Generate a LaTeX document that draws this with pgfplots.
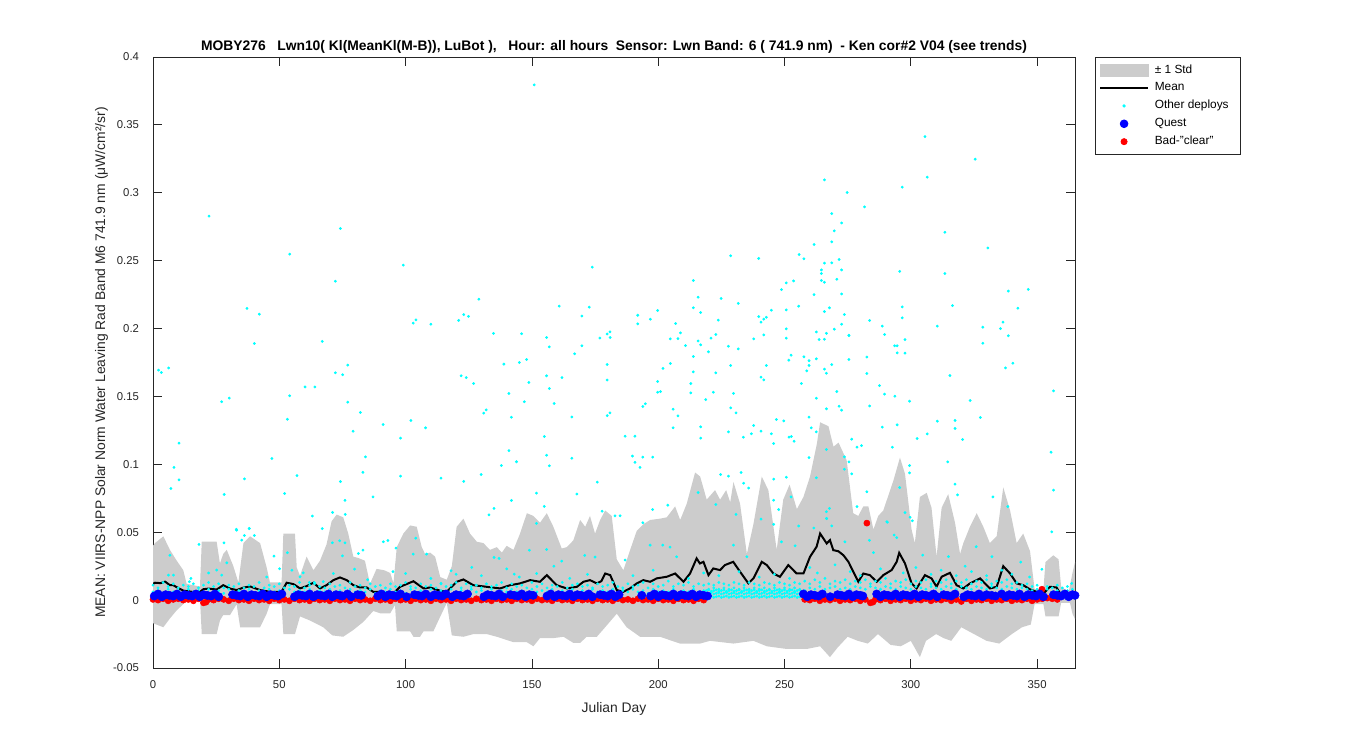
\documentclass[border=0pt]{standalone}
\usepackage{fontspec}
\setmainfont{Liberation Sans}
\usepackage{pgfplots}
\usepackage{pgfplotstable}
\pgfplotsset{compat=1.18}

\definecolor{stdgray}{RGB}{204,204,204}
\definecolor{axgray}{RGB}{38,38,38}
\definecolor{mcyan}{RGB}{0,255,255}
\definecolor{mblue}{RGB}{0,0,255}
\definecolor{mred}{RGB}{255,0,0}

% +/- 1 std band: upper edge left to right, then lower edge right to left
\pgfplotstableread{
d v
0 0.040
0.8 0.042
4.1 0.047
6.7 0.037
9.4 0.029
12.0 0.022
13.3 0.012
18.6 0.010
19.3 0.043
25.2 0.043
26.5 0.027
27.8 0.034
29.2 0.037
31.8 0.025
33.8 0.013
35.8 0.042
38.4 0.047
42.4 0.042
45.0 0.024
46.3 0.013
50.9 0.013
51.6 0.049
56.2 0.049
56.9 0.024
58.2 0.018
60.8 0.032
63.5 0.022
66.1 0.029
68.7 0.041
70.7 0.058
72.7 0.063
75.3 0.061
77.3 0.049
79.3 0.032
81.3 0.031
83.9 0.029
85.9 0.012
88.5 0.023
91.5 0.022
93.9 0.020
95.2 0.0125
96.5 0.039
99.1 0.049
101.8 0.055
104.4 0.054
106.4 0.039
107.7 0.034
109.7 0.035
111.7 0.032
113.7 0.017
116.3 0.015
118.3 0.025
120.2 0.054
122.9 0.060
125.5 0.049
128.2 0.043
130.8 0.042
133.4 0.037
136.1 0.039
138.1 0.035
140.0 0.040
142.7 0.037
145.3 0.049
148.0 0.064
150.6 0.062
153.2 0.057
155.9 0.064
158.5 0.054
161.8 0.038
163.8 0.039
166.4 0.044
169.1 0.059
171.1 0.054
173.0 0.062
175.0 0.049
177.0 0.059
179.0 0.066
181.6 0.062
183.6 0.030
186.2 0.022
188.9 0.037
191.5 0.051
194.2 0.056
196.8 0.059
200.8 0.060
203.4 0.061
206.7 0.069
208.7 0.059
211.3 0.071
214.6 0.094
216.6 0.091
219.2 0.074
222.5 0.081
224.5 0.074
226.9 0.081
228.5 0.072
229.8 0.087
232.4 0.071
235.1 0.034
237.7 0.056
241.0 0.091
243.6 0.081
246.9 0.037
249.5 0.074
252.0 0.085
254.9 0.067
257.5 0.076
260.1 0.091
262.8 0.115
264.1 0.131
267.4 0.128
269.4 0.113
271.4 0.116
274.6 0.103
277.2 0.064
279.2 0.062
281.2 0.069
283.2 0.069
285.2 0.052
287.1 0.062
289.1 0.066
293.1 0.088
295.7 0.105
297.7 0.093
300.3 0.052
301.6 0.042
303.6 0.076
306.3 0.079
308.2 0.068
310.2 0.032
312.2 0.068
314.8 0.078
317.5 0.057
319.5 0.034
320.8 0.042
323.4 0.054
326.1 0.064
328.7 0.054
331.3 0.042
334.0 0.047
336.6 0.083
339.3 0.066
341.9 0.042
344.5 0.049
347.2 0.036
349.0 0.008
352.5 0.008
353.3 0.028
356.4 0.033
358.5 0.030
359.5 0.010
362.5 0.006
364.0 0.020
365 0.028
365 -0.014
364.0 -0.010
363.0 -0.002
359.5 -0.002
358.5 -0.012
353.3 -0.012
352.5 -0.003
349.0 -0.003
347.5 -0.018
344.0 -0.020
340.0 -0.025
335.0 -0.032
330.0 -0.030
325.0 -0.025
320.0 -0.020
316.0 -0.030
313.0 -0.028
310.0 -0.025
306.0 -0.030
303.6 -0.042
300.0 -0.030
296.0 -0.034
292.0 -0.033
287.0 -0.025
283.0 -0.032
279.0 -0.030
275.0 -0.027
271.0 -0.035
268.0 -0.042
264.1 -0.034
258.8 -0.036
250.9 -0.036
243.0 -0.034
237.7 -0.030
229.8 -0.032
220.5 -0.030
216.6 -0.032
208.6 -0.032
200.7 -0.027
192.8 -0.027
187.5 -0.020
183.6 -0.010
179.0 -0.020
175.7 -0.027
171.7 -0.027
169.1 -0.0315
166.4 -0.0315
162.5 -0.027
158.5 -0.028
153.2 -0.028
150.6 -0.034
148.0 -0.031
142.7 -0.031
136.1 -0.027
132.1 -0.025
126.9 -0.025
122.9 -0.027
118.3 -0.026
116.3 -0.002
113.0 -0.015
111.0 -0.023
107.1 -0.023
105.7 -0.027
103.1 -0.027
101.8 -0.023
96.5 -0.023
95.8 -0.0037
93.9 -0.0097
89.9 -0.0097
87.2 -0.008
83.3 -0.016
79.3 -0.022
75.3 -0.027
71.0 -0.026
67.4 -0.020
62.1 -0.015
58.2 -0.012
56.2 -0.025
51.6 -0.025
50.9 -0.003
46.3 -0.003
45.0 -0.010
42.4 -0.020
34.5 -0.020
33.1 -0.003
30.5 -0.011
27.8 -0.011
26.5 -0.015
25.2 -0.025
19.3 -0.025
18.6 0.001
13.3 0.001
12.0 -0.003
9.4 -0.0075
6.7 -0.0135
4.1 -0.020
0 -0.017
}\bandpoly

% running mean
\pgfplotstableread{
d v
0 0.012
0.8 0.0128
3 0.0125
4.8 0.0136
6.7 0.011
8 0.011
9.4 0.0095
12.0 0.007
15.9 0.006
18.6 0.006
19.9 0.008
22 0.0085
25.2 0.0078
27.8 0.011
30.5 0.0085
33.1 0.0074
35.8 0.0092
38.4 0.0101
42.4 0.0074
46.3 0.0061
50.9 0.0061
52.9 0.0128
55.6 0.0118
58.2 0.0086
60.8 0.0103
63.5 0.0128
66.1 0.0086
68.7 0.011
71.4 0.0147
74.0 0.0167
76.7 0.0147
79.3 0.011
81.9 0.0093
84.6 0.0093
87.2 0.0061
89.9 0.0061
95.2 0.0049
97.8 0.0098
103.1 0.0139
107.1 0.0086
109.7 0.0093
113.7 0.0069
116.3 0.0061
120.2 0.0135
122.9 0.0152
126.8 0.011
132.1 0.0098
137.4 0.0086
141.4 0.011
145.3 0.0123
149.3 0.0147
153.2 0.0135
155.9 0.0184
159.8 0.011
163.8 0.0086
167.8 0.0098
170.4 0.0135
173.0 0.0147
175.7 0.0123
177.5 0.014
179.0 0.0196
181.0 0.0184
183.6 0.0074
186.2 0.0061
188.8 0.0086
191.5 0.0123
194.1 0.0147
196.8 0.0135
199.4 0.016
203.4 0.0172
206.7 0.0196
210.0 0.0135
212.6 0.0196
215.2 0.0307
216.5 0.027
217.9 0.0282
219.9 0.0184
221.8 0.0233
224.5 0.0221
226.4 0.0258
229.7 0.0282
232.4 0.0209
235.7 0.0123
237.7 0.016
241.0 0.0282
243.0 0.0258
245.6 0.0196
248.2 0.0172
251.5 0.0258
254.8 0.0196
257.5 0.0196
260.1 0.0319
262.7 0.0393
264.1 0.049
266.7 0.0417
268.0 0.0442
269.3 0.0368
271.3 0.036
273.3 0.0331
275.3 0.0282
279.2 0.0135
281.2 0.0196
283.8 0.0184
286.5 0.0135
289.1 0.0184
292.4 0.0221
294.4 0.0282
295.4 0.0348
297.7 0.027
300.3 0.0123
302.3 0.0086
305.6 0.0184
308.2 0.016
310.2 0.0098
312.2 0.0172
315.5 0.0201
318.1 0.011
320.8 0.0086
323.4 0.0123
327.4 0.016
331.3 0.0086
334.0 0.0098
336.6 0.025
339.3 0.0196
341.9 0.0123
344.5 0.011
347.2 0.0079
349.8 0.0061
352.5 0.0049
355.1 0.0098
357.7 0.0093
359.1 0.0049
}\meantab

% other deploys, low-level cloud of points
\pgfplotstableread{
d b c
0 0.006 0.011
2 0.007 0.009
4 0.005 0.013
6 0.008 0.010
8 0.006 0.012
10 0.007 0.009
12 0.005 0.011
14 0.008 0.010
16 0.006 0.012
18 0.007 0.009
20 0.006 0.011
22 0.008 0.013
24 0.006 0.010
26 0.007 0.012
28 0.005 0.009
30 0.008 0.011
32 0.006 0.010
34 0.007 0.012
36 0.006 0.009
38 0.008 0.011
40 0.005 0.010
42 0.007 0.013
44 0.006 0.009
46 0.008 0.011
48 0.006 0.010
50 0.007 0.012
52 0.005 0.009
54 0.008 0.011
56 0.006 0.010
58 0.007 0.013
60 0.006 0.009
62 0.008 0.011
64 0.005 0.012
66 0.007 0.010
68 0.006 0.009
70 0.008 0.012
72 0.006 0.010
74 0.007 0.011
76 0.005 0.009
78 0.008 0.013
80 0.006 0.010
82 0.007 0.011
84 0.006 0.009
86 0.008 0.012
88 0.005 0.010
90 0.007 0.011
92 0.006 0.009
94 0.008 0.012
96 0.006 0.010
98 0.007 0.011
100 0.005 0.013
102 0.008 0.010
104 0.006 0.009
106 0.007 0.012
108 0.006 0.010
110 0.008 0.011
112 0.005 0.009
114 0.007 0.012
116 0.006 0.010
118 0.008 0.011
120 0.006 0.013
122 0.007 0.009
124 0.005 0.012
126 0.008 0.010
128 0.006 0.011
130 0.007 0.009
132 0.006 0.012
134 0.008 0.010
136 0.005 0.011
138 0.007 0.013
140 0.006 0.009
142 0.008 0.012
144 0.006 0.010
146 0.007 0.011
148 0.005 0.009
150 0.008 0.013
152 0.006 0.010
154 0.007 0.012
156 0.006 0.009
158 0.008 0.011
160 0.005 0.010
162 0.007 0.013
164 0.006 0.009
166 0.008 0.011
168 0.006 0.012
170 0.007 0.010
172 0.005 0.011
174 0.008 0.009
176 0.006 0.012
178 0.007 0.010
180 0.006 0.011
182 0.008 0.013
184 0.005 0.010
186 0.007 0.009
188 0.006 0.012
190 0.008 0.010
192 0.006 0.011
194 0.007 0.013
196 0.005 0.009
198 0.008 0.012
200 0.006 0.010
202 0.007 0.011
204 0.006 0.014
206 0.008 0.010
208 0.005 0.012
210 0.007 0.011
212 0.006 0.013
214 0.008 0.010
216 0.006 0.012
218 0.007 0.011
220 0.008 0.012
222 0.009 0.011
224 0.008 0.013
226 0.009 0.012
228 0.008 0.011
230 0.009 0.013
232 0.008 0.012
234 0.009 0.011
236 0.008 0.013
238 0.009 0.012
240 0.008 0.011
242 0.009 0.013
244 0.008 0.012
246 0.009 0.011
248 0.008 0.013
250 0.009 0.012
252 0.008 0.011
254 0.009 0.013
256 0.008 0.012
258 0.007 0.014
260 0.009 0.012
262 0.008 0.015
264 0.010 0.013
266 0.008 0.016
268 0.009 0.012
270 0.010 0.014
272 0.008 0.013
274 0.009 0.015
276 0.008 0.012
278 0.010 0.014
280 0.009 0.013
282 0.008 0.015
284 0.010 0.012
286 0.009 0.014
288 0.008 0.013
290 0.010 0.016
292 0.009 0.012
294 0.008 0.014
296 0.010 0.013
298 0.009 0.015
300 0.008 0.012
302 0.010 0.014
304 0.009 0.013
306 0.008 0.015
308 0.010 0.012
310 0.009 0.014
312 0.008 0.013
314 0.010 0.015
316 0.009 0.012
318 0.008 0.014
320 0.010 0.013
322 0.009 0.015
324 0.008 0.012
326 0.010 0.014
328 0.009 0.013
330 0.008 0.015
332 0.010 0.012
334 0.009 0.014
336 0.008 0.013
338 0.010 0.015
340 0.009 0.012
342 0.008 0.013
344 0.009 0.011
346 0.008 0.012
348 0.007 0.010
350 0.008 0.011
352 0.007 0.009
354 0.008 0.010
356 0.006 0.009
358 0.007 0.011
360 0.006 0.009
362 0.007 0.010
364 0.006 0.008
}\cyanlow

% other deploys, dense strip where Quest is absent
\pgfplotstableread{
d a b c
219 0.002 0.0045 0.0070
220 0.0025 0.0050 0.0075
221 0.003 0.0055 0.0065
222 0.002 0.0045 0.0070
223 0.0025 0.0050 0.0075
224 0.003 0.0055 0.0065
225 0.002 0.0045 0.0070
226 0.0025 0.0050 0.0075
227 0.003 0.0055 0.0065
228 0.002 0.0045 0.0070
229 0.0025 0.0050 0.0075
230 0.003 0.0055 0.0065
231 0.002 0.0045 0.0070
232 0.0025 0.0050 0.0075
233 0.003 0.0055 0.0065
234 0.002 0.0045 0.0070
235 0.0025 0.0050 0.0075
236 0.003 0.0055 0.0065
237 0.002 0.0045 0.0070
238 0.0025 0.0050 0.0075
239 0.003 0.0055 0.0065
240 0.002 0.0045 0.0070
241 0.0025 0.0050 0.0075
242 0.003 0.0055 0.0065
243 0.002 0.0045 0.0070
244 0.0025 0.0050 0.0075
245 0.003 0.0055 0.0065
246 0.002 0.0045 0.0070
247 0.0025 0.0050 0.0075
248 0.003 0.0055 0.0065
249 0.002 0.0045 0.0070
250 0.0025 0.0050 0.0075
251 0.003 0.0055 0.0065
252 0.002 0.0045 0.0070
253 0.0025 0.0050 0.0075
254 0.003 0.0055 0.0065
255 0.002 0.0045 0.0070
256 0.0025 0.0050 0.0075
257 0.003 0.0055 0.0065
258 0.002 0.0045 0.0070
}\cyanstrip

\begin{document}
\begin{tikzpicture}
\useasboundingbox (0,0) rectangle (1012.5pt,562.5pt);
\begin{axis}[
    at={(114.75pt,61.5pt)}, anchor=south west,
    width=691.5pt, height=458.25pt, scale only axis,
    xmin=0, xmax=365, ymin=-0.05, ymax=0.4,
    xtick={0,50,...,350},
    xticklabels={0,50,100,150,200,250,300,350},
    ytick={-0.05,0,0.05,0.1,0.15,0.2,0.25,0.3,0.35,0.4},
    yticklabels={-0.05,0,0.05,0.1,0.15,0.2,0.25,0.3,0.35,0.4},
    tick align=inside, major tick length=6.5pt,
    axis line style={axgray, line width=0.6pt},
    tick style={axgray, line width=0.6pt},
    ticklabel style={font=\fontsize{8.5}{10}\selectfont, text=axgray},
    yticklabel shift=7pt, xticklabel shift=6pt,
    title={MOBY276\ \ \ Lwn10( Kl(MeanKl(M-B)), LuBot ),\ \ \ Hour: all hours\ \ Sensor: Lwn Band: 6 ( 741.9 nm)\ \ - Ken cor\#2 V04 (see trends)},
    title style={font=\bfseries\fontsize{10.4}{12}\selectfont, at={(axis description cs:0.5,1)}, anchor=south, inner sep=0pt, yshift=-3.2pt},
    xlabel={Julian Day},
    xlabel style={font=\fontsize{10.4}{12}\selectfont, text=axgray, at={(axis description cs:0.5,0)}, anchor=base, yshift=-33.5pt},
    ylabel={MEAN: VIIRS-NPP Solar Norm Water Leaving Rad Band M6 741.9 nm (μW/cm²/sr)},
    ylabel style={font=\fontsize{10.4}{12}\selectfont, text=axgray, at={(axis description cs:0,0.5)}, anchor=base, xshift=0pt, yshift=36pt},
    legend style={at={(axis description cs:1.0217,1)}, anchor=north west,
        draw=axgray, line width=0.6pt, font=\fontsize{8.9}{10}\selectfont,
        inner xsep=3pt, inner ysep=4.5pt, row sep=3.2pt,
        nodes={inner sep=1pt, text height=6.3pt, text depth=1.9pt}},
    legend cell align=left,
]
% +/- 1 std band
\addplot[fill=stdgray, draw=none, forget plot] table[x=d,y=v]{\bandpoly};

% other deploys
\addplot[only marks, mark=*, mark size=0.85pt, mcyan, forget plot] table[x=d,y=b]{\cyanlow};
\addplot[only marks, mark=*, mark size=0.85pt, mcyan, forget plot] table[x=d,y=c]{\cyanlow};
\addplot[only marks, mark=*, mark size=0.85pt, mcyan, forget plot] table[x=d,y=a]{\cyanstrip};
\addplot[only marks, mark=*, mark size=0.85pt, mcyan, forget plot] table[x=d,y=b]{\cyanstrip};
\addplot[only marks, mark=*, mark size=0.85pt, mcyan, forget plot] table[x=d,y=c]{\cyanstrip};
\addplot[only marks, mark=*, mark size=0.85pt, mcyan, forget plot] coordinates {
(18.2,0.041)(14.4,0.0136)(6.1,0.0184)(8.1,0.0184)(6.7,0.033)(28.1,0.0422)(29.2,0.0275)
(25.2,0.0221)(27.2,0.0184)(33.1,0.0515)(35.1,0.0442)(36.2,0.0476)(38.1,0.0528)(40.1,0.0476)
(47.9,0.0324)(50.1,0.0231)(53.2,0.0349)(58.2,0.0172)(59.5,0.0201)(61.9,0.013)(63.9,0.013)
(71.0,0.0422)(75.0,0.0326)(76.0,0.0422)(73.9,0.0437)(71.4,0.0196)(81.3,0.0343)(83.1,0.0368)
(79.8,0.0228)(67.4,0.0136)(91.2,0.0429)(93.0,0.0439)(96.2,0.0383)(104.0,0.0456)(103.0,0.0339)
(108.3,0.0339)(100.0,0.0196)(114.0,0.0123)(118.0,0.0216)(126.2,0.0241)(135.0,0.0314)
(137.0,0.0307)(143.0,0.0191)(149.0,0.0368)(155.8,0.0373)(158.7,0.025)(161.8,0.0287)
(170.9,0.0329)(175.0,0.0317)(151.9,0.0196)(186.9,0.0295)(196.8,0.0405)(201.8,0.0405)
(204.7,0.039)(207.3,0.0319)(229.8,0.0405)(235.1,0.032)(248.8,0.0429)(254.2,0.040)
(266.7,0.060)(273.9,0.0429)(283.6,0.044)(285.2,0.035)(290.5,0.0577)(293.4,0.0479)
(294.4,0.046)(299.7,0.061)(304.7,0.0331)(314.9,0.032)(321.5,0.025)(325.9,0.0393)
(332.1,0.032)(343.5,0.028)(355.8,0.0503)(351.9,0.0227)(363.7,0.0123)
(190,0.018)(198,0.022)(212,0.016)(218,0.02)(224,0.018)(232,0.021)(240,0.017)(246,0.019)
(252,0.016)(260,0.024)(263,0.02)(270,0.026)(276,0.021)(280,0.018)(288,0.023)(297,0.02)
(302,0.024)(308,0.019)(312,0.022)(318,0.018)(324,0.021)(330,0.018)(336,0.022)(340,0.019)
(347,0.017)(15,0.016)(45,0.017)(85,0.015)(110,0.016)(130,0.018)(145,0.017)(165,0.016)
(172,0.019)(55,0.022)(22,0.02)(95,0.021)(120,0.019)(140,0.023)
(22.2,0.2828)(74.2,0.2737)(54.1,0.2548)(72.2,0.2349)(37.2,0.2148)(42.1,0.2106)(40.1,0.189)
(67.0,0.1905)(2.2,0.1694)(3.3,0.1676)(6.2,0.171)(77.1,0.1731)(72.2,0.1674)(75.1,0.166)
(60.2,0.157)(64.1,0.157)(54.1,0.1505)(27.2,0.1461)(30.2,0.1488)(77.1,0.1458)(82.1,0.1382)
(53.2,0.1332)(79.2,0.1244)(91.1,0.1293)(10.3,0.1156)(47.1,0.1043)(84.1,0.1055)(8.3,0.0977)
(10.3,0.0886)(36.2,0.0893)(57.0,0.0917)(83.1,0.0941)(74.2,0.0873)(7.1,0.0822)(28.2,0.0778)
(52.1,0.0785)(76.0,0.0735)(87.1,0.076)(63.1,0.0619)(71.1,0.0646)(76.1,0.0631)(33.0,0.0521)
(38.1,0.0526)(67.0,0.0527)
(150.9,0.3795)(99.1,0.2467)(173.9,0.2452)(129.0,0.2216)(160.8,0.2165)(172.7,0.2157)
(104.1,0.2064)(103.0,0.204)(110.0,0.2032)(121.0,0.206)(123.0,0.2103)(124.9,0.209)
(169.8,0.2092)(134.8,0.1964)(145.9,0.1962)(155.8,0.1934)(156.9,0.1865)(176.9,0.193)
(179.8,0.196)(180.9,0.1976)(181.0,0.1934)(166.9,0.1814)(169.8,0.1873)(138.9,0.1738)
(145.0,0.175)(147.9,0.1772)(179.8,0.1735)(122.0,0.1652)(124.0,0.1639)(126.9,0.1595)
(148.8,0.1603)(155.8,0.1652)(161.9,0.1639)(156.9,0.1558)(179.8,0.1621)(140.9,0.1522)
(147.0,0.1461)(158.8,0.1448)(130.9,0.1377)(131.9,0.1401)(141.9,0.1347)(165.8,0.1349)
(179.8,0.1359)(180.9,0.1379)(102.1,0.1323)(107.9,0.1269)(98.0,0.1193)(154.9,0.1205)
(140.9,0.1101)(155.8,0.1067)(143.9,0.1019)(137.9,0.0991)(156.9,0.0989)(165.8,0.1045)
(98.0,0.0913)(114.0,0.0898)(123.0,0.0874)(129.9,0.0925)(175.9,0.0869)(151.8,0.0788)
(167.8,0.0781)(141.9,0.0734)(135.0,0.0675)(133.0,0.0628)(154.9,0.0690)(177.8,0.0655)
(182.9,0.0621)(151.8,0.0565)
(265.8,0.3095)(274.8,0.3002)(268.7,0.2847)(272.6,0.2778)(269.7,0.272)(268.7,0.2639)
(261.7,0.2619)(255.8,0.2545)(257.7,0.2514)(271.6,0.2509)(228.7,0.2536)(239.8,0.2516)
(265.8,0.2482)(268.7,0.2484)(264.6,0.2432)(264.6,0.2405)(272.6,0.2432)(264.6,0.2354)
(265.8,0.2341)(270.7,0.2363)(253.6,0.2351)(250.7,0.2336)(248.8,0.2287)(213.9,0.2354)
(272.6,0.2255)(261.7,0.225)(215.8,0.2231)(224.9,0.2222)(231.7,0.2185)(255.6,0.2165)
(267.8,0.2153)(213.9,0.2153)(244.8,0.2135)(250.7,0.2137)(265.8,0.2125)(273.7,0.2103)
(216.8,0.2118)(191.9,0.2098)(199.8,0.2133)(191.9,0.2035)(196.9,0.2069)(223.8,0.2062)
(206.9,0.2037)(240.7,0.2047)(241.8,0.2069)(239.8,0.2088)(242.8,0.2083)(272.6,0.2032)
(250.7,0.1998)(269.7,0.1995)(208.8,0.1968)(262.6,0.1975)(266.6,0.1965)(275.5,0.1948)
(204.8,0.1924)(207.8,0.1926)(215.8,0.1909)(220.9,0.1929)(222.8,0.1956)(237.8,0.1924)
(241.8,0.1953)(250.7,0.1929)(263.7,0.1919)(265.8,0.1921)(210.8,0.1875)(216.8,0.188)
(227.8,0.187)(231.7,0.185)(219.9,0.1829)(213.9,0.1794)(228.7,0.1728)(242.8,0.1728)
(251.7,0.1767)(252.6,0.1804)(257.7,0.1792)(259.7,0.1763)(262.6,0.1777)(259.7,0.1728)
(268.7,0.1735)(201.9,0.1706)(204.8,0.1743)(265.8,0.1701)(258.8,0.1689)(213.9,0.1681)
(222.8,0.1674)(266.6,0.1671)(240.7,0.1642)(241.8,0.1622)(199.8,0.161)(212.9,0.1595)
(256.7,0.1595)(199.8,0.1531)(200.9,0.1536)(212.9,0.1526)(221.8,0.1531)(229.8,0.1522)
(270.7,0.1536)(218.8,0.1477)(262.6,0.1487)(193.9,0.1426)(194.9,0.1446)(228.7,0.1416)
(205.9,0.1406)(230.8,0.1379)(271.6,0.1428)(272.6,0.1399)(266.6,0.1409)(207.8,0.1357)
(259.7,0.1347)(246.8,0.133)(249.7,0.132)(205.9,0.1269)(216.8,0.1276)(237.8,0.1286)
(260.6,0.1269)(227.8,0.1239)(240.7,0.1244)(186.9,0.1207)(190.8,0.1207)(216.8,0.1193)
(233.7,0.12)(236.9,0.1225)(244.8,0.1225)(251.8,0.12)(252.7,0.1205)(253.8,0.117)
(245.7,0.1153)(262.6,0.1239)(189.8,0.1061)(193.9,0.1053)(197.8,0.1053)(190.8,0.1015)
(192.8,0.0977)(259.7,0.1050)(273.7,0.1055)(266.6,0.1109)(224.7,0.0925)(227.8,0.0913)
(232.8,0.0940)(233.8,0.0861)(235.8,0.0825)(245.7,0.0891)(250.7,0.0905)(262.6,0.0901)
(273.7,0.0964)(215.8,0.0792)(252.6,0.0760)(245.7,0.0736)(222.8,0.0704)(203.8,0.0699)
(197.8,0.0667)(184.9,0.0621)(230.8,0.0631)(267.8,0.0675)(266.6,0.0651)(247.7,0.0667)
(193.9,0.0570)(240.7,0.0597)(266.6,0.0602)(255.6,0.0546)(261.6,0.0531)(268.7,0.0546)
(245.7,0.0558)
(305.6,0.3414)(325.5,0.3247)(306.5,0.3115)(296.6,0.3041)(281.7,0.2896)(313.5,0.2709)
(330.5,0.2594)(295.6,0.2421)(313.5,0.2405)(338.6,0.2276)(346.5,0.2288)(296.6,0.2159)
(316.5,0.2169)(342.4,0.2150)(296.6,0.2079)(283.7,0.206)(288.7,0.2018)(310.5,0.2018)
(328.5,0.201)(335.5,0.2)(336.5,0.2047)(338.6,0.1947)(275.5,0.1951)(289.6,0.1956)
(297.7,0.1919)(293.6,0.1873)(294.6,0.1873)(294.6,0.1821)(297.7,0.1819)(328.5,0.1892)
(282.6,0.179)(275.5,0.1772)(340.4,0.1745)(337.5,0.171)(282.6,0.1669)(315.5,0.1654)
(287.6,0.158)(356.5,0.1541)(289.6,0.1517)(293.7,0.1502)(299.5,0.1465)(323.5,0.147)
(283.7,0.143)(327.5,0.1345)(310.5,0.1318)(317.5,0.1323)(317.5,0.1264)(288.7,0.1274)
(294.6,0.1291)(276.6,0.1185)(302.5,0.119)(306.5,0.1224)(320.5,0.1183)(278.7,0.1126)
(280.5,0.1138)(292.7,0.1126)(355.5,0.1089)(275.5,0.1018)(314.6,0.1018)(299.5,0.0991)
(276.6,0.093)(299.5,0.0937)(295.6,0.0829)(317.5,0.0854)(356.5,0.081)(282.6,0.0798)
(318.5,0.0775)(332.5,0.076)(278.7,0.0689)(338.4,0.0689)(297.7,0.0645)(300.6,0.0584)
(290.7,0.0574)
};

% running mean
\addplot[black, line width=1.5pt, forget plot] table[x=d,y=v]{\meantab};

% bad "clear"
\addplot[only marks, mark=*, mark size=2.3pt, mred, forget plot] coordinates {
(0,0.0005)(2,0.0)(4,0.001)(6,-0.0005)(8,0.0005)(10,0.001)(12,0)(14,0.0005)(16,-0.0005)
(18,0.001)(20,-0.002)(21,-0.0015)(22,0.0005)(24,0)(26,0.001)(28,0.0005)(30,-0.0005)
(32,0.001)(34,0)(36,0.0005)(38,-0.0005)(40,0.001)(42,0)(44,0.0005)(46,-0.0005)(48,0.001)
(50,0)(52,0.0005)(54,-0.0005)(56,0.001)(58,0)(60,0.0005)(62,-0.0005)(64,0.001)(66,0)
(68,0.0005)(70,-0.0005)(72,0.001)(74,0)(76,0.0005)(78,-0.0005)(80,0.001)(82,0)(84,0.0005)
(86,-0.0005)(88,0.001)(90,0)(92,0.0005)(94,-0.0005)(96,0.001)(98,0)(100,0.0005)
(102,-0.0005)(104,0.001)(106,0)(108,0.0005)(110,-0.0005)(112,0.001)(114,0)(116,0.0005)
(118,-0.0005)(120,0.001)(122,0)(124,0.0005)(126,-0.0005)(128,0.001)(130,0)(132,0.0005)
(134,-0.0005)(136,0.001)(138,0)(140,0.0005)(142,-0.0005)(144,0.001)(146,0)(148,0.0005)
(150,-0.0005)(152,0.001)(154,0)(156,0.0005)(158,-0.0005)(160,0.001)(162,0)(164,0.0005)
(166,-0.0005)(168,0.001)(170,0)(172,0.0005)(174,-0.0005)(176,0.001)(178,0)(180,0.0005)
(182,-0.0005)(184,0.001)(186,0)(188,0.0005)(190,-0.0005)(192,0.001)(194,0)(196,0.0005)
(198,-0.0005)(200,0.001)(202,0)(204,0.0005)(206,-0.0005)(208,0.001)(210,0)(212,0.0005)
(214,-0.0005)(216,0.001)(218,0)
(258,0.0005)(260,0)(262,0.001)(264,-0.0005)(266,0.0005)(268,0)(270,0.001)(272,-0.0005)
(274,0.0005)(276,0)(278,0.001)(280,-0.0005)(282,0.0005)(282.6,0.0567)(284,-0.002)
(285,-0.0015)(286,0.0005)(288,0)(290,0.001)(292,-0.0005)(294,0.0005)(296,0)(298,0.001)
(300,-0.0005)(302,0.0005)(304,0)(306,0.001)(308,-0.0005)(310,0.0005)(312,0)(314,0.001)
(316,-0.0005)(318,0.0005)(320,-0.001)(322,0.001)(324,-0.0005)(326,0.0005)(328,0)
(330,0.001)(332,-0.0005)(334,0.0005)(336,0)(338,0.001)(340,-0.0005)(342,0.0005)(344,0)
(346,0.001)(348,-0.0005)(350,0.0005)(351.9,0.008)(352,0.001)(354,0.0015)(356,0.001)
(358,0.0005)
};

% Quest
\addplot[only marks, mark=*, mark size=3.1pt, mblue, forget plot] coordinates {
(0.5,0.003)(2,0.0045)(3.5,0.0025)(5,0.004)(6.5,0.0035)(8,0.003)(9.5,0.0045)(11,0.0025)
(12.5,0.004)(14,0.0035)(15.5,0.003)(17,0.0045)(18.5,0.0025)(20,0.004)(21.5,0.0035)
(23,0.003)(24.5,0.0045)(26,0.0025)
(31.5,0.004)(33,0.0035)(34.5,0.003)(36,0.0045)(37.5,0.0025)(39,0.004)(40.5,0.0035)
(42,0.003)(43.5,0.0045)(45,0.0025)(46.5,0.004)(48,0.0035)(49.5,0.003)(51,0.0045)
(56,0.0025)(57.5,0.004)(59,0.0035)(60.5,0.003)(62,0.0045)(63.5,0.0025)(65,0.004)
(66.5,0.0035)(68,0.003)(69.5,0.0045)(71,0.0025)(72.5,0.004)(74,0.0035)(75,0.003)
(77,0.0045)(78.5,0.0025)(81,0.004)(82.5,0.0035)
(89,0.003)(90.5,0.0045)(92,0.0025)(93.5,0.004)(95,0.0035)(96.5,0.003)(98,0.0045)
(100.4,0.0025)(103.5,0.004)(105,0.0035)(106.5,0.003)(108,0.0045)
(110,0.0025)(111.5,0.004)(113,0.0035)(114.5,0.003)(116,0.0045)
(118.5,0.0025)(120,0.004)(121.5,0.0035)(123,0.003)(124.5,0.0045)
(131,0.0025)(132.5,0.004)(134,0.0035)(135.5,0.003)(137,0.0045)(138.5,0.0025)
(141.5,0.004)(143,0.0035)(144.5,0.003)(146,0.0045)(147.5,0.0025)(149,0.004)(150.5,0.0035)
(156,0.003)(157.5,0.0045)(159,0.0025)(160.5,0.004)(162,0.0035)(163.5,0.003)(165,0.0045)
(166.5,0.0025)(168,0.004)(169.5,0.0035)(171,0.003)(172.5,0.0045)(174,0.0025)
(177,0.004)(178.5,0.0035)(180,0.003)(181.5,0.0045)(183,0.0025)(184.5,0.004)
(193.5,0.0035)
(197,0.003)(198.5,0.0045)(200,0.0025)(201.5,0.004)(203,0.0035)(204.5,0.003)(206,0.0045)
(207.5,0.0025)(209,0.004)(210.5,0.0035)(212,0.003)(213.5,0.0045)(215,0.0025)(216.5,0.004)
(218,0.0035)(219.5,0.003)
(257.5,0.0045)(259,0.0025)(260.5,0.004)(262,0.0035)(263.5,0.003)(265,0.0045)
(268.1,0.0025)
(271,0.004)(272.5,0.0035)(274,0.003)(275.5,0.0045)(277,0.0025)(278.5,0.004)(280,0.0035)
(281,0.003)
(286.5,0.0045)(288,0.0025)(289.5,0.004)(291,0.0035)(292.5,0.003)(294,0.0045)(295.5,0.0025)
(297,0.004)(298.5,0.0035)(300,0.003)(301.5,0.0045)(303,0.0025)(304.5,0.004)(306,0.0035)
(307.5,0.003)(309,0.0045)(310.5,0.0025)
(313,0.004)(314.5,0.0035)(316,0.003)(317.5,0.0045)
(321,0.0025)(322.5,0.004)(324,0.0035)(325.5,0.003)(327,0.0045)(328.5,0.0025)(330,0.004)
(332,0.0035)(333.5,0.003)
(336,0.0045)(337.5,0.0025)(339,0.004)(340.5,0.0035)(342,0.003)(343,0.0045)
(345,0.0025)(346.5,0.004)(348,0.0035)(349.5,0.003)(351,0.0045)(352.5,0.0025)
(356.5,0.004)(358,0.0035)(359.5,0.003)(361,0.0045)(362.5,0.0025)(364,0.004)(365,0.0035)
};

% legend
\addlegendimage{legend image code/.code={\fill[stdgray] (0pt,-4.5pt) rectangle (36pt,4.5pt); \path (39.75pt,0pt);}}
\addlegendentry{± 1 Std}
\addlegendimage{legend image code/.code={\draw[black, line width=1pt] (0pt,0pt) -- (36pt,0pt); \path (39.75pt,0pt);}}
\addlegendentry{Mean}
\addlegendimage{legend image code/.code={\fill[mcyan] (18pt,0pt) circle (0.9pt); \path (0pt,0pt) (39.75pt,0pt);}}
\addlegendentry{Other deploys\hspace*{5pt}}
\addlegendimage{legend image code/.code={\fill[mblue] (18pt,0pt) circle (2.9pt); \path (0pt,0pt) (39.75pt,0pt);}}
\addlegendentry{Quest}
\addlegendimage{legend image code/.code={\fill[mred] (18pt,0pt) circle (2.3pt); \path (0pt,0pt) (39.75pt,0pt);}}
\addlegendentry{Bad-"clear"}
\end{axis}
\end{tikzpicture}
\end{document}
